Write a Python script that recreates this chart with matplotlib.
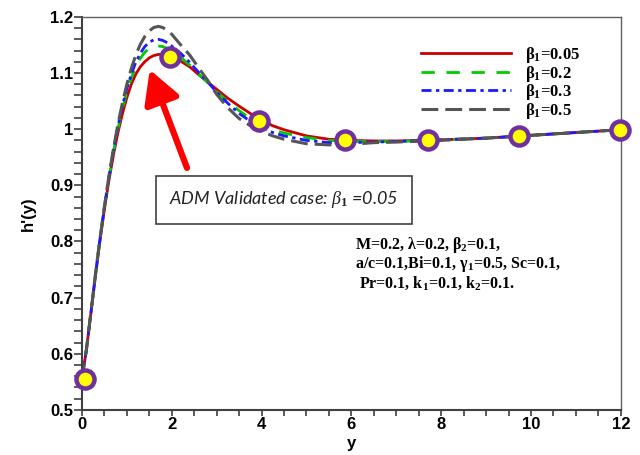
import numpy as np
import matplotlib
matplotlib.use("Agg")
import matplotlib.pyplot as plt
from matplotlib.ticker import MultipleLocator, FormatStrFormatter

plt.rcParams["mathtext.fontset"] = "custom"
plt.rcParams["mathtext.rm"] = "Liberation Serif:bold"
plt.rcParams["mathtext.bf"] = "Liberation Serif:bold"
plt.rcParams["mathtext.it"] = "Liberation Serif:italic"

# ---- data ----
y_grid = [0, 0.1, 0.2, 0.3, 0.4, 0.5, 0.6, 0.7, 0.8, 0.9, 1.0, 1.1, 1.2, 1.3,
          1.4, 1.5, 1.6, 1.7, 1.8, 1.9, 2.0, 2.2, 2.4, 2.6, 2.8, 3.0, 3.25,
          3.5, 3.75, 4.0, 4.25, 4.5, 5.0, 5.5, 6.0, 6.5, 7.0, 8.0, 9.0, 10.0,
          11.0, 12.0]

h_b005 = [0.555, 0.607, 0.672, 0.738, 0.800, 0.857, 0.908, 0.953, 0.993, 1.027,
          1.056, 1.080, 1.098, 1.111, 1.120, 1.127, 1.131, 1.133, 1.133, 1.131,
          1.128, 1.121, 1.111, 1.097, 1.084, 1.071, 1.055, 1.041, 1.028, 1.016,
          1.006, 0.999, 0.988, 0.982, 0.980, 0.979, 0.979, 0.981, 0.984, 0.989,
          0.994, 0.999]
h_b02 = [0.555, 0.607, 0.673, 0.739, 0.802, 0.860, 0.912, 0.959, 1.000, 1.036,
         1.066, 1.091, 1.111, 1.126, 1.137, 1.144, 1.147, 1.148, 1.147, 1.144,
         1.139, 1.128, 1.114, 1.098, 1.083, 1.067, 1.049, 1.033, 1.019, 1.008,
         0.999, 0.993, 0.985, 0.980, 0.978, 0.978, 0.978, 0.981, 0.984, 0.989,
         0.994, 0.999]
h_b03 = [0.555, 0.607, 0.673, 0.740, 0.803, 0.861, 0.914, 0.962, 1.004, 1.041,
         1.072, 1.098, 1.119, 1.135, 1.147, 1.155, 1.159, 1.160, 1.158, 1.154,
         1.148, 1.135, 1.119, 1.101, 1.084, 1.066, 1.046, 1.028, 1.014, 1.003,
         0.994, 0.988, 0.980, 0.976, 0.976, 0.977, 0.978, 0.981, 0.984, 0.989,
         0.994, 0.999]
h_b05 = [0.555, 0.608, 0.674, 0.741, 0.804, 0.862, 0.916, 0.964, 1.008, 1.046,
         1.080, 1.108, 1.132, 1.151, 1.165, 1.175, 1.181, 1.183, 1.181, 1.176,
         1.169, 1.150, 1.132, 1.109, 1.087, 1.062, 1.038, 1.019, 1.006, 0.996,
         0.988, 0.982, 0.974, 0.972, 0.973, 0.976, 0.977, 0.980, 0.984, 0.989,
         0.994, 0.999]

adm_y = [0.07, 1.96, 3.94, 5.86, 7.71, 9.73, 11.98]
adm_h = [0.556, 1.128, 1.015, 0.980, 0.980, 0.987, 0.999]

labels = [r"β$_\mathbf{1}$=0.05", r"β$_\mathbf{1}$=0.2",
          r"β$_\mathbf{1}$=0.3", r"β$_\mathbf{1}$=0.5"]

param_lines = [r"M=0.2, λ=0.2, β$_\mathbf{2}$=0.1,",
               r"a/c=0.1,Bi=0.1, γ$_\mathbf{1}$=0.5, Sc=0.1,",
               r" Pr=0.1, k$_\mathbf{1}$=0.1, k$_\mathbf{2}$=0.1."]

# ---- figure ----
fig = plt.figure(figsize=(6.4, 4.55), dpi=100)
ax = fig.add_axes([0.128, 0.099, 0.842, 0.864])

ax.plot(y_grid, h_b005, color="#cc0000", lw=2.0, ls="-", label=labels[0])
ax.plot(y_grid, h_b02, color="#00cc00", lw=2.0, ls=(0, (4.8, 4.2)), label=labels[1])
ax.plot(y_grid, h_b03, color="#1a1aff", lw=2.0, ls=(0, (3.6, 1.6, 1.2, 1.6)), label=labels[2])
ax.plot(y_grid, h_b05, color="#555555", lw=2.2, ls=(0, (5.5, 2.3)), label=labels[3])

ax.plot(adm_y, adm_h, ls="none", marker="o", ms=13, mfc="#ffff00",
        mec="#7030a0", mew=3.2, zorder=5, clip_on=False)

ax.set_xlim(0, 12)
ax.set_ylim(0.5, 1.2)
ax.xaxis.set_major_locator(MultipleLocator(2))
ax.xaxis.set_minor_locator(MultipleLocator(0.5))
ax.yaxis.set_major_locator(MultipleLocator(0.1))
ax.yaxis.set_minor_locator(MultipleLocator(0.02))
ax.yaxis.set_major_formatter(FormatStrFormatter("%g"))
ax.tick_params(which="both", direction="out", color="#404040", width=1.2,
               top=False, right=False)
ax.tick_params(axis="y", which="both", length=5.5, pad=1)
ax.tick_params(axis="x", which="both", length=4, pad=1)
for lab in ax.get_xticklabels() + ax.get_yticklabels():
    lab.set_fontfamily("Liberation Sans")
    lab.set_fontweight("bold")
    lab.set_fontsize(12)

for side in ["left", "bottom"]:
    ax.spines[side].set_color("#404040")
    ax.spines[side].set_linewidth(1.5)
for side in ["top", "right"]:
    ax.spines[side].set_color("#606060")
    ax.spines[side].set_linewidth(1.0)

ax.set_xlabel("y", fontfamily="Liberation Sans", fontweight="bold",
              fontsize=12, labelpad=3)
ax.set_ylabel("h'(y)", fontfamily="Liberation Sans", fontweight="bold",
              fontsize=12, labelpad=10)

leg = ax.legend(loc="upper left", bbox_to_anchor=(0.629, 0.928), frameon=False,
                borderpad=0, borderaxespad=0,
                handlelength=5.4, handletextpad=0.85, labelspacing=-0.09,
                prop={"family": "Liberation Serif", "weight": "bold", "size": 12})

# annotation box and arrow
ax.text(4.5, 0.874, r"ADM Validated case: $\it{\beta_1}$ =0.05", fontfamily="Lato",
        fontstyle="italic", fontsize=13, color="#222222", ha="center", va="center",
        bbox=dict(boxstyle="square,pad=0.75", fc="white", ec="#404040", lw=1.2))
ax.annotate("", xy=(1.51, 1.106), xytext=(2.34, 0.931),
            arrowprops=dict(arrowstyle="-|>,head_length=1.0,head_width=0.55",
                            color="#ff0000", lw=4.5, mutation_scale=20,
                            shrinkA=0, shrinkB=0))

for i, line in enumerate(param_lines):
    ax.text(6.08, 0.794 - i * 0.034, line, fontfamily="Liberation Serif",
            fontweight="bold", fontsize=11.5, ha="left", va="center")

fig.savefig("out.png", dpi=100)
